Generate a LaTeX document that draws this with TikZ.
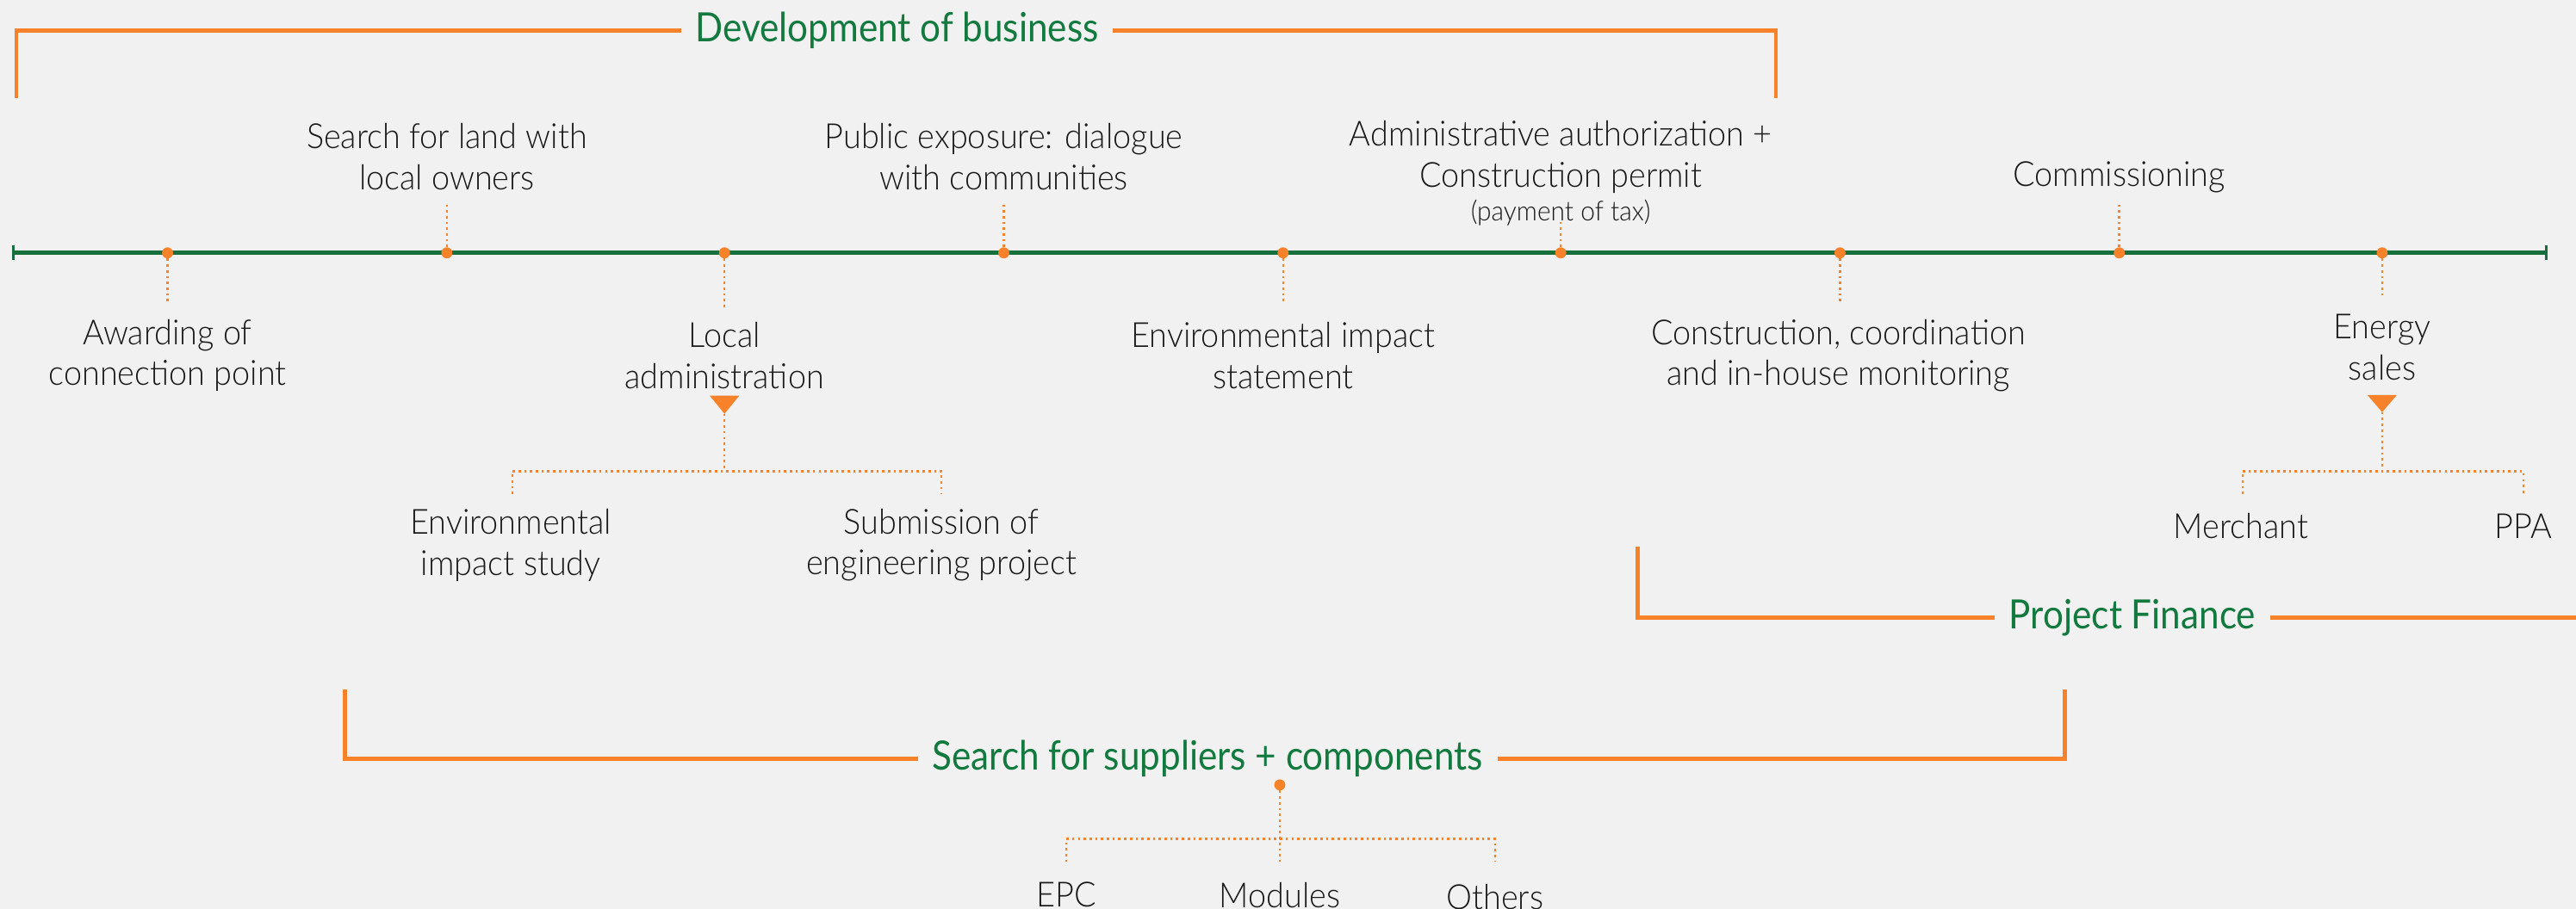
\documentclass[tikz,border=0pt]{standalone}
\usepackage{fontspec}
\setmainfont{Lato}[UprightFont={* Light}, FakeStretch=0.94]
\newfontfamily\headfont{Lato}[FakeStretch=0.9]
\definecolor{bg}{HTML}{F0F1F0}
\definecolor{org}{HTML}{F7822A}
\definecolor{grn}{HTML}{127A3E}
\definecolor{tlc}{HTML}{17703C}
\definecolor{txt}{HTML}{1A1A1A}
\begin{document}
\begin{tikzpicture}[x=0.02cm,y=-0.02cm,
  lbl/.style={font=\fontsize{12}{14.2}\selectfont, align=center, text=txt, inner sep=0pt},
  sml/.style={font=\fontsize{9.5}{11}\selectfont, align=center, text=txt, inner sep=0pt},
  head/.style={font=\headfont\fontsize{14}{16}\selectfont, text=grn, inner xsep=0.17cm, inner ysep=0pt},
  brk/.style={draw=org, line width=1.4pt},
  dotline/.style={draw=org, line width=0.75pt, dash pattern=on 0.8pt off 1.2pt},
  evt/.style={circle, fill=org, inner sep=0pt, minimum size=0.135cm},
  tri/.style={fill=org}
]
\fill[bg] (0,0) rectangle (1568,553.6);
\useasboundingbox (0,0) rectangle (1568,553.6);

% ---------- headings and brackets ----------
\node[head] (dev) at (546,18.5) {Development of business};
\draw[brk] (dev.west) -- (10,18.5) -- (10,60);
\draw[brk] (dev.east) -- (1081,18.5) -- (1081,60);

\node[head] (pf) at (1298,376) {Project Finance};
\coordinate (pfend) at (1568,376);
\draw[brk] (pf.west) -- (997,376) -- (997,333);
\draw[brk] (pf.east) -- (pfend);

\node[head] (sup) at (735,462) {Search for suppliers + components};
\draw[brk] (sup.west) -- (210,462) -- (210,420);
\draw[brk] (sup.east) -- (1257,462) -- (1257,420);

% ---------- timeline ----------
\coordinate (tlA) at (8,154);
\coordinate (tlB) at (1550,154);
\draw[tlc, line width=1.5pt] (tlA) -- (tlB);
\draw[tlc, line width=1pt] (8,149.5) -- (8,158.5);
\draw[tlc, line width=1pt] (1550,149.5) -- (1550,158.5);

% ---------- labels ----------
\node[lbl] (l1) at (102,216.5) {Awarding of\\connection point};
\node[lbl] (l2) at (272,95.5) {Search for land with\\local owners};
\node[lbl] (l3) at (441,216.5) {Local\\administration};
\node[lbl] (l4) at (611,95.5) {Public exposure: dialogue\\with communities};
\node[lbl] (l5) at (781,216.5) {Environmental impact\\statement};
\node[lbl] (l6) at (950,95.5) {Administrative authorization +\\Construction permit};
\node[sml] (l6b) at (950,129.5) {(payment of tax)};
\node[lbl] (l7) at (1119,216.5) {Construction, coordination\\and in-house monitoring};
\node[lbl] (l8) at (1290,108) {Commissioning};
\node[lbl] (l9) at (1450,211.5) {Energy\\sales};

% dotted stems
\coordinate (s1) at (102,185);
\coordinate (s2) at (272,125);
\coordinate (s3) at (441,187);
\coordinate (s4) at (611,125);
\coordinate (s5) at (781,185);
\coordinate (s6) at (950,135);
\coordinate (s7) at (1120,184);
\coordinate (s8) at (1290,125);
\coordinate (s9) at (1450,182);
\foreach \n/\x in {1/102,2/272,3/441,4/611,5/781,6/950,7/1120,8/1290,9/1450}
  \coordinate (p\n) at (\x,154);
\foreach \n in {1,...,9}
  \draw[dotline] (p\n) -- (s\n);
% event dots
\foreach \n/\x in {1/102,2/272,3/441,4/611,5/781,6/950,7/1120,8/1290,9/1450}
  \node[evt] (e\n) at (\x,154) {};

% ---------- local administration subtree ----------
\coordinate (t3) at (441,252);
\fill[tri] (432,241) -- (450,241) -- (t3) -- cycle;
\node[lbl] (env) at (311,332) {Environmental\\impact study};
\node[lbl] (subm) at (573,332) {Submission of\\engineering project};
\coordinate (b3) at (441,287);
\coordinate (b3l) at (312,287);
\coordinate (b3r) at (573,287);
\coordinate (b3ld) at (312,301);
\coordinate (b3rd) at (573,301);
\draw[dotline] (t3) -- (b3);
\draw[dotline] (b3ld) -- (b3l) -- (b3r) -- (b3rd);

% ---------- energy sales subtree ----------
\coordinate (t9) at (1450,251);
\fill[tri] (1441,240.5) -- (1459,240.5) -- (t9) -- cycle;
\node[lbl] (mer) at (1364,320.5) {Merchant};
\node[lbl] (ppa) at (1536,320.5) {PPA};
\coordinate (b9) at (1450,287);
\coordinate (b9l) at (1365,287);
\coordinate (b9r) at (1536,287);
\coordinate (b9ld) at (1365,301);
\coordinate (b9rd) at (1536,301);
\draw[dotline] (t9) -- (b9);
\draw[dotline] (b9ld) -- (b9l) -- (b9r) -- (b9rd);

% ---------- suppliers subtree ----------
\coordinate (sdc) at (779,478);
\coordinate (bs) at (779,511);
\coordinate (bsl) at (649,511);
\coordinate (bsr) at (910,511);
\coordinate (bsld) at (649,525);
\coordinate (bsrd) at (910,525);
\coordinate (bsmd) at (779,525);
\draw[dotline] (sdc) -- (bsmd);
\draw[dotline] (bsld) -- (bsl) -- (bsr) -- (bsrd);
\node[evt] (sd) at (sdc) {};
\node[lbl] (epc) at (649,545) {EPC};
\node[lbl] (mod) at (779,545) {Modules};
\node[lbl] (oth) at (910,546.5) {Others};
\end{tikzpicture}
\end{document}
